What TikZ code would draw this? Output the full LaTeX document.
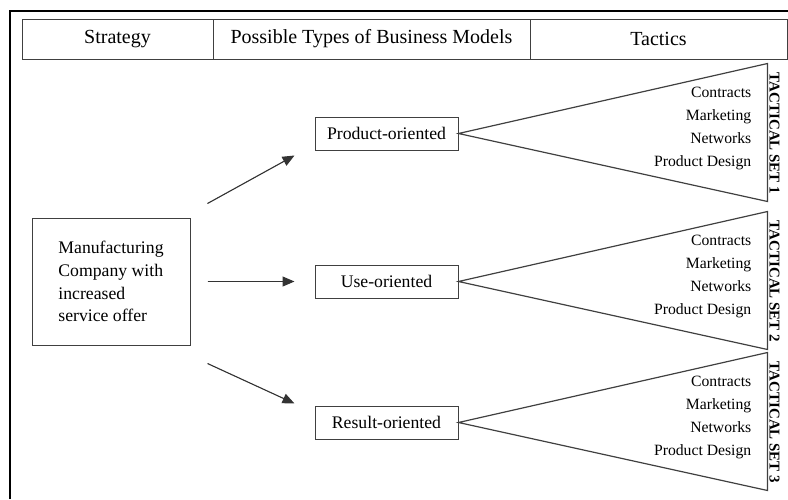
\documentclass[tikz,border=0pt]{standalone}
\usepackage{fontspec}
\setmainfont{Liberation Serif}
\usetikzlibrary{
  arrows.meta
  , positioning
  , calc
}

\begin{document}
\begin{tikzpicture}[x=1pt, y=-1pt,
    cell/.style={draw=\LineColor, line width=1pt, outer sep=0pt,
      minimum height=40pt, font=\fontsize{20}{24}\selectfont},
    firm/.style={draw=\LineColor, line width=1pt, minimum width=158pt,
      minimum height=127pt, align=left,
      font=\fontsize{17.7}{22.7}\selectfont},
    model/.style={draw=\LineColor, line width=1pt, minimum width=143pt,
      minimum height=33pt, font=\fontsize{17.7}{21}\selectfont},
    arr/.style={-{Triangle[length=12pt,width=10pt]}, line width=1.1pt,
      draw=\ArrowColor, fill=black},
    fan/.style={draw=\LineColor, line width=1.2pt, line join=miter},
    tacticlist/.style={align=right, inner sep=0pt,
      font=\fontsize{15.7}{23}\selectfont},
    setlabel/.style={rotate=-90, inner sep=0pt,
      font=\fontsize{15}{18}\bfseries\selectfont},
  ]
  \def\LineColor {black!75};
  \def\ArrowColor {black!80};

  \useasboundingbox (0,0) rectangle (788,499);
  \draw[line width=2pt] (10,499) -- (10,11) -- (788,11);

  % column heads
  \node[cell, minimum width=191pt] (HdrStrategy) at (117.5,39) {Strategy};
  \node[cell, minimum width=317pt, right=0pt of HdrStrategy] (HdrModels)
    {Possible Types of Business Models};
  \node[cell, minimum width=257pt, right=0pt of HdrModels] (HdrTactics)
    {Tactics};

  \node[firm] (Mfg) at (111,281.5)
    {Manufacturing\\Company with\\increased\\service offer};

  \node[model] (Prod) at (386.5,133.5) {Product-oriented};
  \node[model] (Use) at (386.5,281.5) {Use-oriented};
  \node[model] (Res) at (386.5,422.5) {Result-oriented};

  \draw[arr] ([shift={(17,-14)}]Mfg.north east)
    -- ([shift={(-20,5)}]Prod.south west);
  \draw[arr] ([xshift=17pt]Mfg.east) -- ([xshift=-20pt]Use.west);
  \draw[arr] ([shift={(17,18)}]Mfg.south east)
    -- ([shift={(-20,-2)}]Res.north west);

  % tactical sets
  \foreach \mdl/\num in {Prod/1, Use/2, Res/3}{
    \draw[fan] (\mdl.east) -- ++(309,-70) -- ++(0,138) -- cycle;
    \node[tacticlist, anchor=east] at ([shift={(293,-5.5)}]\mdl.east)
      {Contracts\\Marketing\\Networks\\Product Design};
    \node[setlabel] at ([xshift=316pt]\mdl.east) {TACTICAL SET \num};
  }
\end{tikzpicture}
\end{document}
